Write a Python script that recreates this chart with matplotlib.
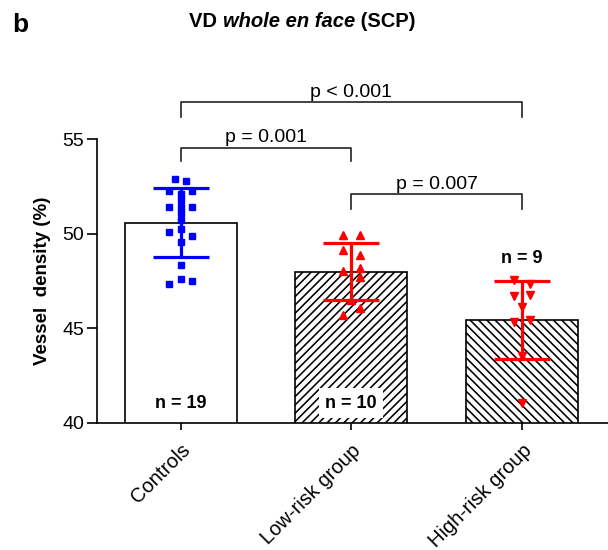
import matplotlib
matplotlib.use('Agg')
import matplotlib.pyplot as plt

plt.rcParams['font.family'] = ['Liberation Sans', 'DejaVu Sans']
plt.rcParams['hatch.linewidth'] = 1.15

# ---- data ----
categories = ['Controls', 'Low-risk group', 'High-risk group']
means = [50.6, 48.0, 45.45]
sds = [1.84, 1.52, 2.07]
n_labels = ['n = 19', 'n = 10', 'n = 9']

controls_vals = [52.89, 52.78, 52.25, 52.11, 52.25, 51.77, 51.41, 51.41, 51.41,
                 51.13, 50.71, 50.27, 50.09, 49.87, 49.59, 48.37, 47.61, 47.37, 47.52]
controls_jit = [-0.033, 0.031, -0.066, 0.0, 0.066, 0.0, -0.066, 0.0, 0.066,
                0.0, 0.0, 0.0, -0.066, 0.066, 0.0, 0.0, 0.0, -0.066, 0.066]

low_vals = [49.96, 49.96, 49.15, 48.88, 48.05, 48.19, 47.69, 46.49, 46.06, 45.69]
low_jit = [-0.049, 0.049, -0.049, 0.049, -0.049, 0.049, 0.049, 0.0, 0.049, -0.049]

high_vals = [47.55, 47.34, 46.72, 46.76, 46.13, 45.33, 45.43, 43.53, 41.05]
high_jit = [-0.045, 0.045, -0.045, 0.045, 0.0, -0.045, 0.045, 0.0, 0.0]

comparisons = [(0, 2, 'p < 0.001'), (0, 1, 'p = 0.001'), (1, 2, 'p = 0.007')]
bracket_tops = [56.97, 54.57, 52.13]
bracket_bottoms = [56.2, 53.86, 51.33]
yticks = [40, 45, 50, 55]

# ---- figure ----
fig = plt.figure(figsize=(6.08, 5.5), dpi=100)
ax = fig.add_axes([0.159, 0.2315, 0.841, 0.515])

colors = ['#0000FF', '#FF0000', '#FF0000']
hatches = [None, '////', '\\\\\\\\']
markers = ['s', '^', 'v']
msizes = [4.6, 6.2, 6.2]
xs = list(range(len(categories)))

for i in xs:
    ax.bar(i, means[i], width=0.655, bottom=0, color='white', edgecolor='black',
           linewidth=1.2, hatch=hatches[i], zorder=1)

point_sets = [(controls_vals, controls_jit), (low_vals, low_jit), (high_vals, high_jit)]
for i, (vals, jit) in enumerate(point_sets):
    ax.errorbar(i, means[i], yerr=sds[i], fmt='none', ecolor=colors[i],
                elinewidth=2.3, capsize=20.5, capthick=2.3, zorder=3)
    ax.plot([i + j for j in jit], vals, linestyle='none', marker=markers[i],
            ms=msizes[i], color=colors[i], mec=colors[i], zorder=4)

# n labels
ax.text(0, 41.03, n_labels[0], ha='center', va='center', fontsize=13,
        fontweight='bold', zorder=5)
ax.text(1, 41.03, n_labels[1], ha='center', va='center', fontsize=13,
        fontweight='bold', zorder=5,
        bbox=dict(boxstyle='square,pad=0.35', fc='white', ec='none'))
ax.text(2, 48.67, n_labels[2], ha='center', va='center', fontsize=13,
        fontweight='bold', zorder=5)

# significance brackets
for (a, b, lab), top, bot in zip(comparisons, bracket_tops, bracket_bottoms):
    ax.plot([a, a, b, b], [bot, top, top, bot], color='#222222', lw=1.2,
            clip_on=False, zorder=5)
    ax.text((a + b) / 2, top + 0.27, lab, ha='center', va='baseline',
            fontsize=14, clip_on=False)

ax.set_xlim(-0.492, 2.504)
ax.set_ylim(40, 55)
ax.set_yticks(yticks)
ax.set_yticklabels([str(t) for t in yticks], fontsize=14)
ax.set_xticks(xs)
ax.set_xticklabels(categories, rotation=45, ha='right', rotation_mode='anchor',
                   fontsize=14.5)
ax.tick_params(axis='y', direction='out', length=7, width=1.2, pad=2)
ax.tick_params(axis='x', direction='out', length=5, width=1.2, pad=8)
for s in ['top', 'right']:
    ax.spines[s].set_visible(False)
for s in ['left', 'bottom']:
    ax.spines[s].set_linewidth(1.2)
ax.set_ylabel('Vessel  density (%)', fontsize=13.5, fontweight='bold', labelpad=8)

# panel letter
fig.text(12 / 608, 1 - 32 / 550, 'b', fontsize=19, fontweight='bold',
         ha='left', va='baseline')

# title with mixed styles
renderer = fig.canvas.get_renderer()
parts = [('VD ', 'normal'), ('whole en face', 'italic'), (' (SCP)', 'normal')]
texts = []
widths = []
for s, st in parts:
    t = fig.text(0, 1 - 27 / 550, s, fontsize=14.5, fontweight='bold', style=st,
                 ha='left', va='baseline')
    bb = t.get_window_extent(renderer=renderer)
    texts.append(t)
    widths.append(bb.width)
total = sum(widths)
x0 = 302.5 - total / 2
for t, w in zip(texts, widths):
    t.set_x(x0 / 608)
    x0 += w

fig.savefig('out.png', dpi=100)
